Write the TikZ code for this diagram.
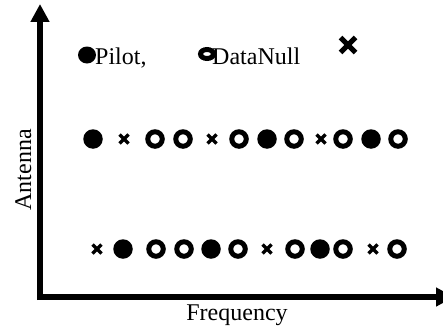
\documentclass[tikz,border=0pt]{standalone}
\usepackage{fontspec}
\setmainfont{Liberation Serif}
\usetikzlibrary{arrows.meta,shapes.misc,shapes.geometric}
\begin{document}
\begin{tikzpicture}[x=1pt,y=-1pt,
  lbl/.style={font=\fontsize{24}{28}\selectfont, inner sep=0pt},
  pilot/.style={circle, fill=black, minimum size=19.5pt, inner sep=0pt},
  datan/.style={circle, draw=black, line width=5pt, minimum size=14.5pt, inner sep=0pt},
  nullc/.style={cross out, draw=black, line width=3.5pt, minimum size=5.5pt, inner sep=0pt},
  axis/.style={line width=6pt, -{Triangle[width=18pt,length=18pt]}}]
\useasboundingbox (0,0) rectangle (443,329);
% axes
\coordinate (o1) at (40,300);
\coordinate (ytop) at (40,4);
\coordinate (o2) at (37,297);
\coordinate (xend) at (454,297);
\draw[axis] (o1) -- (ytop);
\draw[axis] (o2) -- (xend);
\node[lbl, anchor=base] (freq) at (237,320.5) {Frequency};
\node[lbl, rotate=90, anchor=base] (ant) at (31,170) {Antenna};
% legend
\node[ellipse, fill=black, minimum width=18pt, minimum height=17pt, inner sep=0pt] (lp) at (87,55) {};
\node[lbl, anchor=base west] (lpt) at (95,64) {Pilot,};
\node[ellipse, draw=black, line width=5pt, minimum width=13pt, minimum height=9pt, inner sep=0pt] (ld) at (207,54) {};
\node[lbl, anchor=base west] (ldt) at (212,64) {DataNull};
\node[cross out, draw=black, line width=5pt, minimum size=10pt, inner sep=0pt] (ln) at (348,45) {};
% row 1
\node[pilot] (a1) at (93,139) {};
\node[nullc] (a2) at (124,139) {};
\node[datan] (a3) at (155,139) {};
\node[datan] (a4) at (183,139) {};
\node[nullc] (a5) at (212,139) {};
\node[datan] (a6) at (239,139) {};
\node[pilot] (a7) at (267,139) {};
\node[datan] (a8) at (294,139) {};
\node[nullc] (a9) at (321,139) {};
\node[datan] (a10) at (343,139) {};
\node[pilot] (a11) at (371,139) {};
\node[datan] (a12) at (398,139) {};
% row 2
\node[nullc] (b1) at (97,249) {};
\node[pilot] (b2) at (123,249) {};
\node[datan] (b3) at (156,249) {};
\node[datan] (b4) at (184,249) {};
\node[pilot] (b5) at (211,249) {};
\node[datan] (b6) at (238,249) {};
\node[nullc] (b7) at (267,249) {};
\node[datan] (b8) at (295,249) {};
\node[pilot] (b9) at (320,249) {};
\node[datan] (b10) at (343,249) {};
\node[nullc] (b11) at (373,249) {};
\node[datan] (b12) at (397,249) {};
\end{tikzpicture}
\end{document}
